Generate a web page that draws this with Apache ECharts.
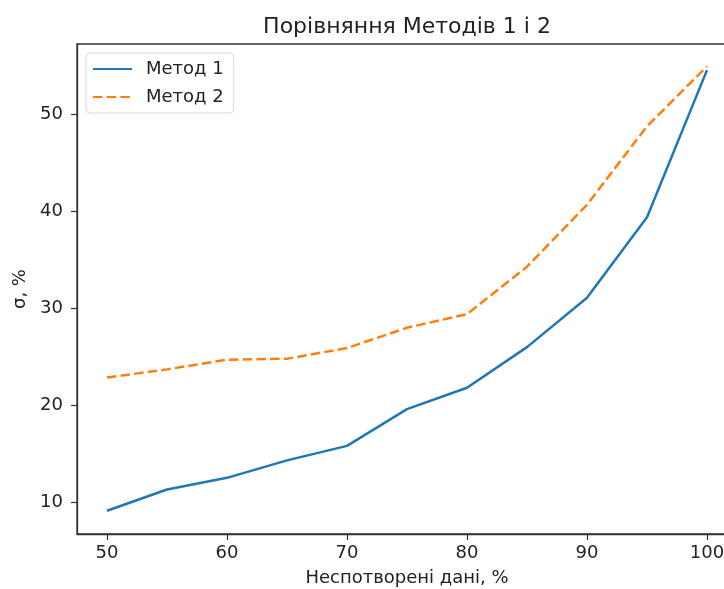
<!DOCTYPE html>
<html>
<head>
<meta charset="utf-8">
<script src="https://cdn.jsdelivr.net/npm/echarts@6/dist/echarts.min.js"></script>
<style>
  html, body { margin: 0; padding: 0; background: #fff; }
  #chart { width: 724px; height: 589px; }
</style>
</head>
<body>
<div id="chart"></div>
<script>
// data
var xValues = [50, 55, 60, 65, 70, 75, 80, 85, 90, 95, 100];
var method1 = [9.1, 11.3, 12.5, 14.3, 15.8, 19.6, 21.8, 26.0, 31.1, 39.4, 54.6];
var method2 = [22.85, 23.7, 24.7, 24.8, 25.9, 28.0, 29.4, 34.3, 40.7, 48.8, 55.0];
var xTicks = [50, 60, 70, 80, 90, 100];
var yTicks = [10, 20, 30, 40, 50];

var font = "DejaVu Sans";
var ink = "#222";

function pairs(ys) {
  return xValues.map(function (x, i) { return [x, ys[i]]; });
}

var chart = echarts.init(document.getElementById("chart"), null, { renderer: "canvas" });

var option = {
  animation: false,
  backgroundColor: "#fff",
  title: {
    text: "Порівняння Методів 1 і 2",
    left: 402,
    top: 11,
    textAlign: "center",
    textStyle: { fontFamily: font, fontSize: 22, fontWeight: "normal", color: ink }
  },
  legend: {
    orient: "vertical",
    left: 86,
    top: 53,
    padding: [7, 10, 7, 6],
    itemWidth: 39,
    itemHeight: 18,
    itemGap: 10,
    borderColor: "#d8d8d8",
    borderWidth: 1,
    borderRadius: 4,
    backgroundColor: "rgba(255,255,255,0.8)",
    itemStyle: { opacity: 0 },
    textStyle: { fontFamily: font, fontSize: 18, color: ink, padding: [0, 0, 0, 9] },
    data: ["Метод 1", "Метод 2"]
  },
  grid: {
    left: 77,
    top: 44,
    width: 660,
    height: 490,
    outerBoundsMode: "none",
    show: true,
    borderColor: "#333",
    borderWidth: 1.3,
    backgroundColor: "transparent"
  },
  xAxis: {
    type: "value",
    min: 47.5,
    max: 102.5,
    name: "Неспотворені дані, %",
    nameLocation: "middle",
    nameGap: 35,
    nameTextStyle: { fontFamily: font, fontSize: 18, color: ink },
    axisLine: { show: true, lineStyle: { color: "#333", width: 1.3 } },
    axisTick: { show: true, length: 6, inside: false, customValues: xTicks, lineStyle: { color: "#333", width: 1.2 } },
    axisLabel: { customValues: xTicks, margin: 10, fontFamily: font, fontSize: 18, color: ink },
    splitLine: { show: false }
  },
  yAxis: {
    type: "value",
    min: 6.7,
    max: 57.3,
    name: "σ, %",
    nameLocation: "middle",
    nameGap: 46,
    nameTextStyle: { fontFamily: font, fontSize: 18, color: ink },
    axisLine: { show: true, lineStyle: { color: "#333", width: 1.3 } },
    axisTick: { show: true, length: 6, inside: false, customValues: yTicks, lineStyle: { color: "#333", width: 1.2 } },
    axisLabel: { customValues: yTicks, margin: 14, fontFamily: font, fontSize: 18, color: ink },
    splitLine: { show: false }
  },
  series: [
    {
      name: "Метод 1",
      type: "line",
      symbol: "none",
      data: pairs(method1),
      itemStyle: { color: "#1f77b4" },
      lineStyle: { color: "#1f77b4", width: 2.5 }
    },
    {
      name: "Метод 2",
      type: "line",
      symbol: "none",
      data: pairs(method2),
      itemStyle: { color: "#ff7f0e" },
      lineStyle: { color: "#ff7f0e", width: 2.5, type: [9.5, 4.2] }
    }
  ]
};

chart.setOption(option);
</script>
</body>
</html>
